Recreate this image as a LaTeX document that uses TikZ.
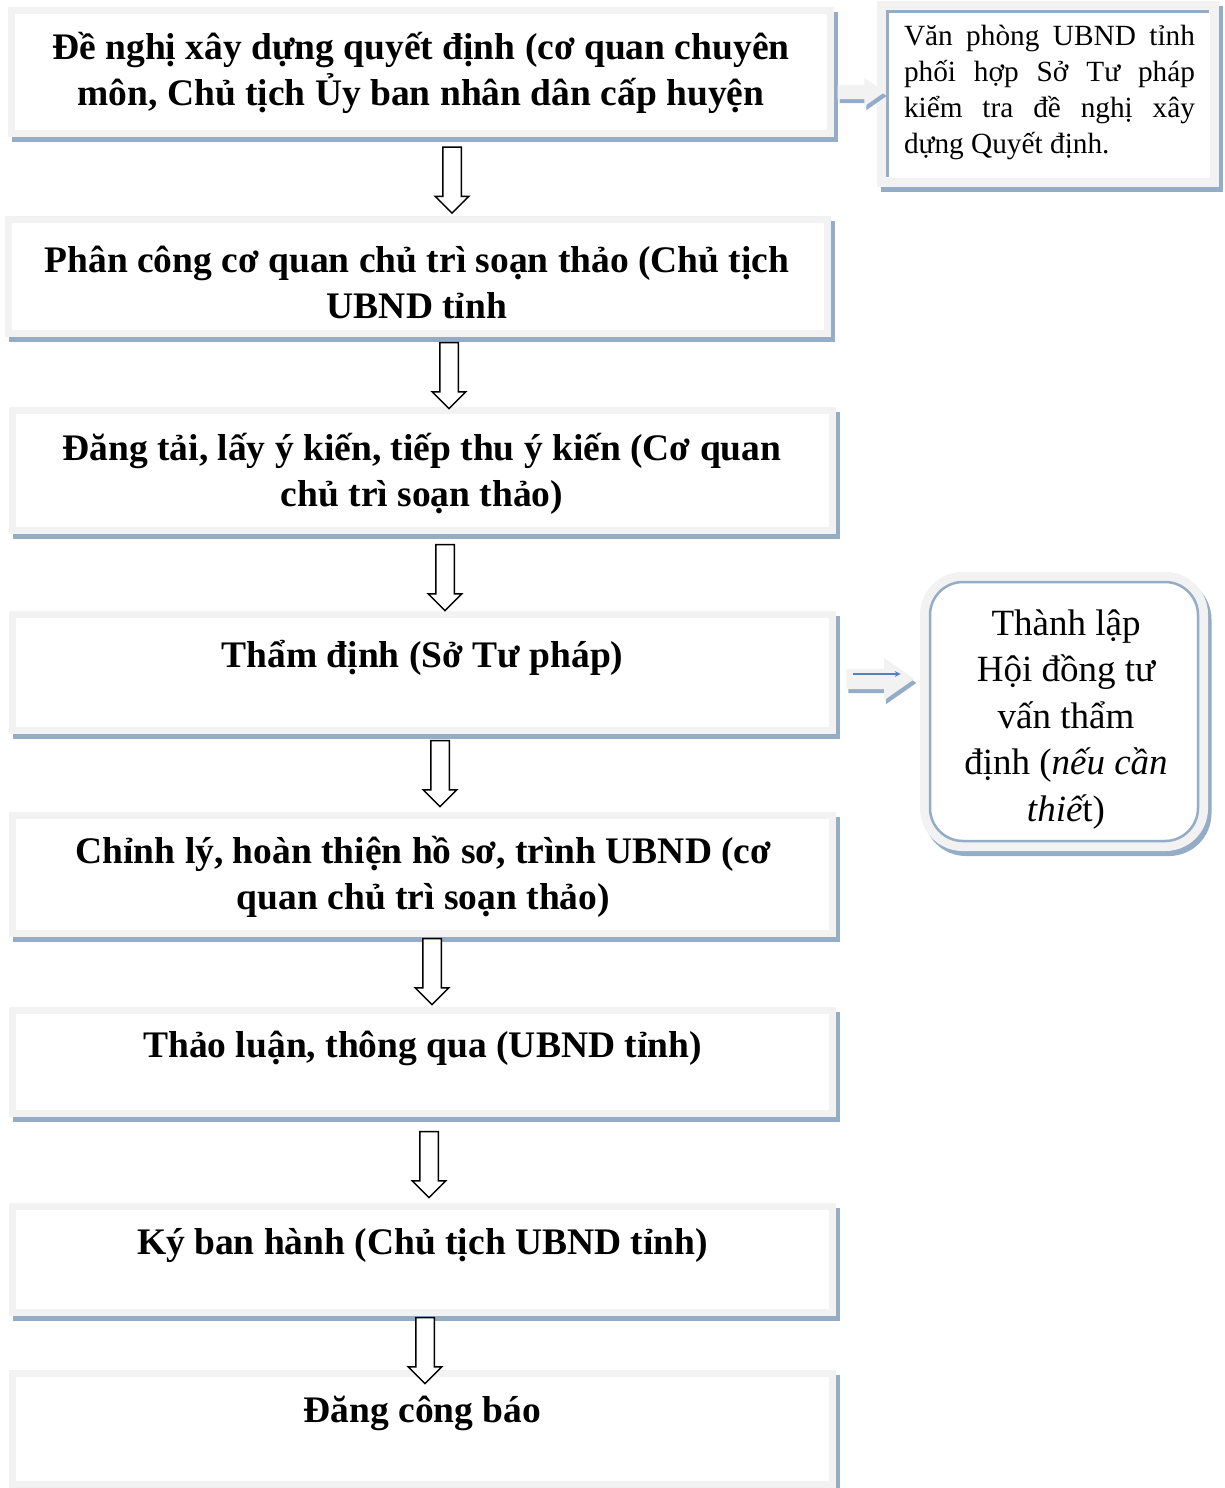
\documentclass[tikz,border=0pt]{standalone}
\usepackage{fontspec}
\setmainfont{Liberation Serif}
\usetikzlibrary{shapes.arrows,arrows.meta}
\definecolor{framegray}{RGB}{242,242,242}
\definecolor{shadeblue}{RGB}{149,172,198}
\definecolor{accentblue}{RGB}{79,129,189}

\begin{document}
\begin{tikzpicture}[
  x=1pt,y=-1pt,
  shadowed/.style={preaction={draw=shadeblue,fill=shadeblue,transform canvas={shift={(3.5pt,-5pt)}}}},
  stepbox/.style={rectangle,draw=framegray,fill=white,line width=7pt,inner sep=0pt,outer sep=0pt,shadowed},
  notebox/.style={rectangle,draw=framegray,fill=white,line width=9pt,inner sep=0pt,outer sep=0pt,shadowed},
  roundnote/.style={notebox,rounded corners=38pt},
  innerline/.style={draw=shadeblue,line width=2.5pt},
  darrow/.style={single arrow,draw=black,fill=white,line width=1.5pt,minimum height=66pt,
    inner xsep=0pt,inner ysep=8.5pt,single arrow head extend=7.5pt,
    single arrow tip angle=90,single arrow head indent=0pt,rotate=-90},
  sarrow/.style={single arrow,fill=framegray,inner xsep=0pt,single arrow tip angle=70,
    single arrow head indent=0pt,preaction={fill=shadeblue,transform canvas={shift={(2pt,-4pt)}}}},
  steptext/.style={font=\fontsize{37.5}{46}\selectfont\bfseries,align=center,inner sep=0pt},
  notetext/.style={font=\fontsize{29.3}{36}\selectfont,text width=291pt,align=justify,inner sep=0pt},
  roundtext/.style={font=\fontsize{37}{46.5}\selectfont,align=center,inner sep=0pt}
]
  \useasboundingbox (0,0) rectangle (1225,1488);

  \node[stepbox,minimum width=819pt,minimum height=123pt] (b1) at (421,72) {};
  \node[stepbox,minimum width=819pt,minimum height=114pt] (b2) at (418,276.5) {};
  \node[stepbox,minimum width=820pt,minimum height=120pt] (b3) at (422.5,470.5) {};
  \node[stepbox,minimum width=820pt,minimum height=116pt] (b4) at (422.5,672.5) {};
  \node[stepbox,minimum width=820pt,minimum height=118pt] (b5) at (422.5,874.5) {};
  \node[stepbox,minimum width=820pt,minimum height=103pt] (b6) at (422.5,1062) {};
  \node[stepbox,minimum width=820pt,minimum height=106pt] (b7) at (422.5,1259.5) {};
  \node[stepbox,minimum width=820pt,minimum height=111pt] (b8) at (422.5,1429) {};

  \node[steptext] (t1) at (421,73) {Đề nghị xây dựng quyết định (cơ quan chuyên\\môn, Chủ tịch Ủy ban nhân dân cấp huyện};
  \node[steptext] (t2) at (417,282) {Phân công cơ quan chủ trì soạn thảo (Chủ tịch\\UBND tỉnh};
  \node[steptext] (t3) at (422,474) {Đăng tải, lấy ý kiến, tiếp thu ý kiến (Cơ quan\\chủ trì soạn thảo)};
  \node[steptext] (t4) at (422.5,658) {Thẩm định (Sở Tư pháp)};
  \node[steptext] (t5) at (423.5,877) {Chỉnh lý, hoàn thiện hồ sơ, trình UBND (cơ\\quan chủ trì soạn thảo)};
  \node[steptext] (t6) at (422.5,1048) {Thảo luận, thông qua (UBND tỉnh)};
  \node[steptext] (t7) at (422.5,1246) {Ký ban hành (Chủ tịch UBND tỉnh)};
  \node[steptext] (t8) at (422.5,1413) {Đăng công báo};

  \foreach \x/\y [count=\i] in {452/175.5,449/371,445/573,440/769,432/967,429/1160,425/1346}
    \node[darrow] (a\i) at (\x,\y) {};

  % side notes
  \node[notebox,minimum width=333pt,minimum height=177pt] (s1) at (1048,94) {};
  \draw[innerline] ([xshift=6pt,yshift=6pt]s1.south west) |- ([xshift=-6pt,yshift=-6pt]s1.north east);
  \node[notetext] (n1) at (1049.5,92) {Văn phòng UBND tỉnh\linebreak phối hợp Sở Tư pháp\linebreak kiểm tra đề nghị xây\linebreak dựng Quyết định.};

  \node[roundnote,minimum width=279pt,minimum height=270pt] (s2) at (1064,711.5) {};
  \draw[innerline,rounded corners=33pt] ([xshift=5.5pt,yshift=5.5pt]s2.south west) rectangle ([xshift=-5.5pt,yshift=-5.5pt]s2.north east);
  \node[roundtext] (n2) at (1066,719.5) {Thành lập\\Hội đồng tư\\vấn thẩm\\định ({\itshape nếu cần}\\{\itshape thiế}t)};

  \node[sarrow,minimum height=47pt,inner ysep=7pt,single arrow head extend=7pt] (sa1) at (856,92) {};
  \node[sarrow,minimum height=68pt,inner ysep=10pt,single arrow head extend=11pt] (sa2) at (873,679) {};
  \draw[accentblue,line width=2pt,-{Stealth[length=6pt,width=6pt]}] ([xshift=7pt,yshift=5pt]sa2.tail) -- ([xshift=-14pt,yshift=5pt]sa2.tip);
\end{tikzpicture}
\end{document}
